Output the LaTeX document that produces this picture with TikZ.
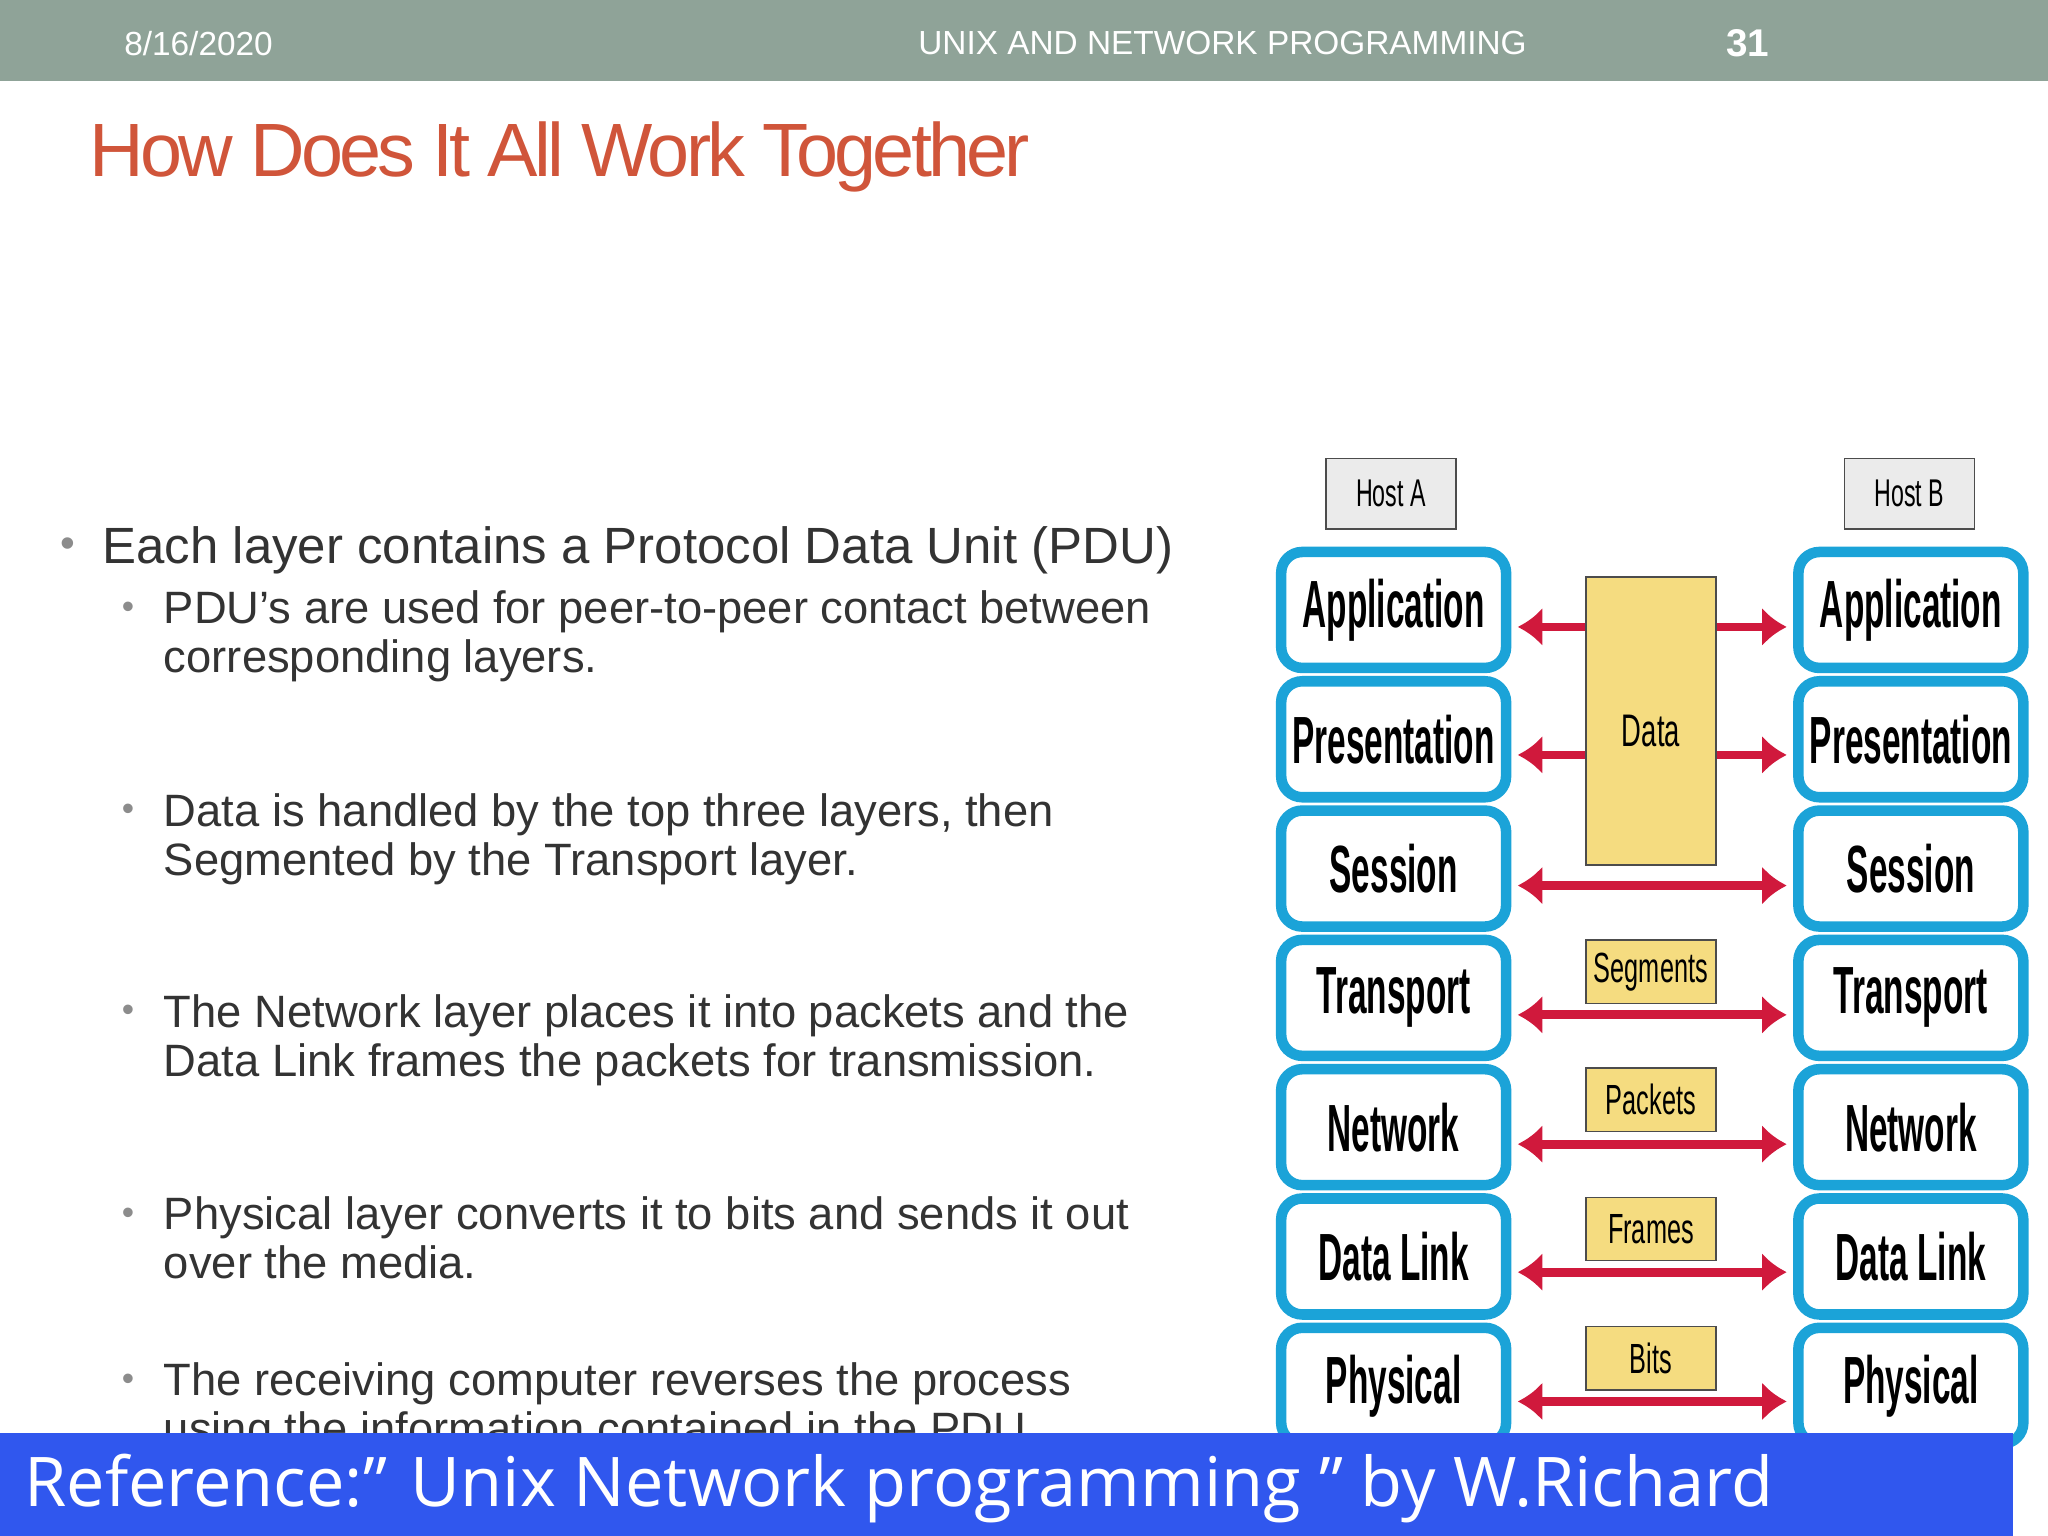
\documentclass[tikz,border=0pt]{standalone}
\usepackage{fontspec}
\setmainfont{Liberation Sans}
\newfontfamily\narrowfont[FakeStretch=0.5]{Liberation Sans Bold}
\newfontfamily\hostfont[FakeStretch=0.6]{Liberation Sans}
\newfontfamily\titlefont[LetterSpace=-5]{Liberation Sans}
\newfontfamily\footfont{Open Sans}
\usetikzlibrary{positioning,arrows.meta}
\tikzset{>=latex}
\definecolor{headgray}{HTML}{8FA398}
\definecolor{titlered}{HTML}{D0553A}
\definecolor{layerblue}{HTML}{1BA3D8}
\definecolor{pdufill}{HTML}{F5DC80}
\definecolor{arrowred}{HTML}{D0193C}
\definecolor{footblue}{HTML}{3057EE}
\definecolor{bodytext}{HTML}{333333}
\tikzset{
  layer/.style={draw=layerblue, line width=3pt, rounded corners=6pt, fill=white,
    minimum width=64pt, minimum height=33pt, inner sep=0pt,
    font=\narrowfont\fontsize{19}{19}\selectfont},
  host/.style={draw=black!70, fill=black!8, minimum width=37pt, minimum height=20pt,
    inner sep=0pt, font=\hostfont\fontsize{11}{11}\selectfont},
  pdu/.style={draw=black!70, fill=pdufill, minimum width=37pt, minimum height=18pt,
    inner sep=0pt, font=\hostfont\fontsize{12}{12}\selectfont},
  pduarrow/.style={draw=arrowred, line width=2.5pt, -{Latex[length=7pt,width=11pt]}},
  bullet/.style={anchor=north west, inner sep=0pt, text=bodytext, align=left},
}
\begin{document}
\begin{tikzpicture}[x=0.013061cm, y=-0.013061cm]
  \useasboundingbox (0,0) rectangle (1568,1176);
  % header
  \fill[headgray] (0,0) rectangle (1568,62);
  \node[text=white, font=\fontsize{9.5}{9.5}\selectfont] (date) at (152,33) {8/16/2020};
  \node[text=white, font=\fontsize{9.5}{9.5}\selectfont] (course) at (936,33) {UNIX AND NETWORK PROGRAMMING};
  \node[text=white, font=\bfseries\fontsize{11}{11}\selectfont] (page) at (1338,33) {31};
  \node[anchor=west, text=titlered, font=\titlefont\fontsize{21.5}{21.5}\selectfont, inner sep=0pt] (title) at (68,120) {How Does It All Work Together};
  % bullets
  \node[text=black!45, font=\fontsize{12}{12}\selectfont] (b0) at (52,419) {•};
  \node[bullet, font=\fontsize{14.5}{17}\selectfont] (t0) at (78,403) {Each layer contains a Protocol Data Unit (PDU)};
  \foreach \y/\txt [count=\i] in {
      452/{PDU’s are used for peer-to-peer contact between\\corresponding layers.},
      607/{Data is handled by the top three layers, then\\Segmented by the Transport layer.},
      761/{The Network layer places it into packets and the\\Data Link frames the packets for transmission.},
      916/{Physical layer converts it to bits and sends it out\\over the media.},
      1043/{The receiving computer reverses the process\\using the information contained in the PDU.}} {
    \node[text=black!45, font=\fontsize{10}{10}\selectfont] (d\i) at (98,\y+15) {•};
    \node[bullet, font=\fontsize{12.9}{13.9}\selectfont] (s\i) at (125,\y) {\txt};
  }
  % protocol stacks
  \node[host] (hostA) at (1065,378) {Host A};
  \node[host] (hostB) at (1462,378) {Host B};
  \foreach \name [count=\i] in {Application, Presentation, Session, Transport, Network, Data Link, Physical} {
    \node[layer] (A\i) at (1067,{467+99*(\i-1)}) {\name};
    \node[layer] (B\i) at (1463,{467+99*(\i-1)}) {\name};
  }
  % PDUs
  \node[pdu, minimum height=82pt] (data) at (1264,552) {};
  \node[font=\hostfont\fontsize{13}{13}\selectfont] (datalbl) at (1264,560) {Data};
  \node[pdu] (seg) at (1264,744) {Segments};
  \node[pdu] (pkt) at (1264,842) {Packets};
  \node[pdu] (frm) at (1264,941) {Frames};
  \node[pdu] (bit) at (1264,1040) {Bits};
  \coordinate (L1) at (1162,480); \coordinate (R1) at (1368,480);
  \coordinate (L2) at (1162,578); \coordinate (R2) at (1368,578);
  \draw[pduarrow] (data.west |- L1) -- (L1);
  \draw[pduarrow] (data.east |- R1) -- (R1);
  \draw[pduarrow] (data.west |- L2) -- (L2);
  \draw[pduarrow] (data.east |- R2) -- (R2);
  \foreach \y [count=\i from 3] in {678,777,876,974,1073} {
    \coordinate (L\i) at (1162,\y); \coordinate (R\i) at (1368,\y);
    \draw[pduarrow, {Latex[length=7pt,width=11pt]}-{Latex[length=7pt,width=11pt]}] (L\i) -- (R\i);
  }
  % footer
  \fill[footblue] (0,1097) rectangle (1541,1176);
  \node[anchor=west, text=white, font=\footfont\fontsize{19.5}{19.5}\selectfont, inner sep=0pt] (ref) at (18,1140) {Reference:” Unix Network programming ” by W.Richard};
\end{tikzpicture}
\end{document}
